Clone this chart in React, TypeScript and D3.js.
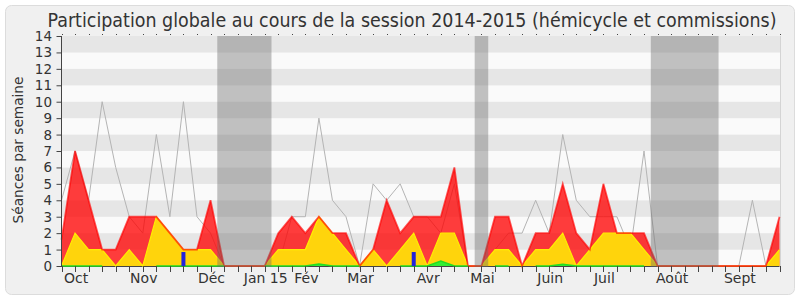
import React from "react";
import * as d3 from "d3";

// ---- data (one value per week, session 2014-2015) ----
const medianLine = [4, 7, 4, 10, 6, 3, 2, 8, 3, 10, 3, 2, 0, 0, 0, 0, 0, 3, 3, 9, 4, 3, 0, 5, 4, 5, 3, 3, 2, 5, 0, 0, 1, 2, 2, 4, 2, 8, 4, 3, 3, 3, 1, 7, 0, 0, 0, 0, 0, 0, 0, 4, 0, 1];
const presenceTotal = [1.6, 7, 4, 1, 1, 3, 3, 3, 2, 1, 1, 4, 0, 0, 0, 0, 2, 3, 2, 3, 2, 2, 0, 1, 4, 2, 3, 3, 3, 6, 0, 0, 3, 3, 0, 2, 2, 5, 2, 1, 5, 2, 2, 2, 0, 0, 0, 0, 0, 0, 0, 0, 0, 3];
const presenceCommission = [0, 2, 1, 1, 0, 1, 0, 3, 2, 1, 1, 1, 0, 0, 0, 0, 1, 1, 1, 3, 2, 1, 0, 1, 0, 1, 2, 0, 2, 2, 0, 0, 1, 1, 0, 1, 1, 2, 0, 1, 2, 2, 2, 1, 0, 0, 0, 0, 0, 0, 0, 0, 0, 1];
const interventions: (number | null)[] = [0, 0, 0, 0, null, null, null, 0, 0, 0, 0, 0, 0, null, null, 0, 0, 0, 0, 0.12, 0, 0, 0, null, null, 0, 0, 0, 0.3, 0, 0, null, 0, 0, null, 0, 0, 0.1, 0, 0, 0, 0, 0, 0, null, null, null, null, null, null, null, null, null, null];
const questions = [0, 0, 0, 0, 0, 0, 0, 0, 0, 0.85, 0, 0, 0, 0, 0, 0, 0, 0, 0, 0, 0, 0, 0, 0, 0, 0, 0.85, 0, 0, 0, 0, 0, 0, 0, 0, 0, 0, 0, 0, 0, 0, 0, 0, 0, 0, 0, 0, 0, 0, 0, 0, 0, 0, 0];
const monthLabels = ["Oct", "Nov", "Déc", "Jan 15", "Fév", "Mar", "Avr", "Mai", "Juin", "Juil", "Août", "Sept"];
const monthWeeks = [1, 6, 11, 15, 18, 22, 27, 31, 36, 40, 45, 50];
const vacationStart = [12, 31, 44];
const vacationEnd = [15, 31, 48];
const yTicks = [0, 1, 2, 3, 4, 5, 6, 7, 8, 9, 10, 11, 12, 13, 14];

const W = 800;
const H = 300;
const left = 61.5;
const right = 779.5;
const top = 36;
const bottom = 266;
const FONT = "'DejaVu Sans', Verdana, sans-serif";

export default function App() {
  const n = presenceTotal.length;
  const weeks = presenceTotal.map((_, i) => i);
  const x = d3.scaleLinear().domain([0, n - 1]).range([left, right]);
  const y = d3.scaleLinear().domain([0, 14]).range([bottom, top]);

  const area = (vals: (number | null)[]) =>
    d3
      .area<number>()
      .defined((i) => vals[i] != null)
      .x((i) => x(i))
      .y0(y(0))
      .y1((i) => y(vals[i] as number))(weeks) || "";
  const line = (vals: (number | null)[]) =>
    d3
      .line<number>()
      .defined((i) => vals[i] != null)
      .x((i) => x(i))
      .y((i) => y(vals[i] as number))(weeks) || "";

  const stripes = yTicks.slice(0, -1);

  return (
    <div style={{ position: "absolute", left: 0, top: 0 }}>
      <svg width={W} height={H} style={{ display: "block" }}>
        <rect x={0} y={0} width={W} height={H} fill="#ffffff" />
        <rect x={5.5} y={5.5} width={789} height={289} rx={6} fill="#f0f0f0" stroke="#dcdcdc" />
        <text
          x={412}
          y={27}
          textAnchor="middle"
          fontFamily="'DejaVu Sans Condensed', 'DejaVu Sans', sans-serif"
          fontSize={19}
          fill="#333"
          textLength={729}
          lengthAdjust="spacingAndGlyphs"
        >
          Participation globale au cours de la session 2014-2015 (hémicycle et commissions)
        </text>

        {/* background stripes */}
        {stripes.map((v) => (
          <rect
            key={"s" + v}
            x={left}
            width={right + 0.5 - left}
            y={y(v + 1)}
            height={y(v) - y(v + 1)}
            fill={v % 2 === 1 ? "#e6e6e6" : "#fafafa"}
          />
        ))}
        <line x1={right + 1} x2={right + 1} y1={top} y2={bottom} stroke="#d4d4d4" />

        {/* bottom axis line */}
        <line x1={left} x2={right} y1={bottom + 0.5} y2={bottom + 0.5} stroke="#444" />

        {/* median line */}
        <path d={line(medianLine)} fill="none" stroke="#b4b4b4" strokeWidth={1} />

        {/* presence total (red) */}
        <path d={area(presenceTotal)} fill="rgba(255,0,0,0.76)" stroke="none" />
        {/* commission (yellow) */}
        <path d={area(presenceCommission)} fill="#ffd40c" stroke="none" />
        <path d={line(presenceCommission)} fill="none" stroke="#ffee00" strokeWidth={1.2} />
        <path d={line(presenceTotal)} fill="none" stroke="rgba(255,0,0,0.65)" strokeWidth={1.8} />

        {/* interventions (green) */}
        <path d={area(interventions)} fill="#33ee33" stroke="none" />
        <path d={line(interventions)} fill="none" stroke="#22dd22" strokeWidth={1.5} />

        {/* questions (blue) */}
        {questions.map((v, i) =>
          v > 0 ? (
            <rect key={"q" + i} x={x(i) - 2} width={4} y={y(v)} height={y(0) - y(v)} fill="#2222dd" />
          ) : null
        )}

        {/* vacation overlays */}
        {vacationStart.map((s, k) => (
          <rect
            key={"v" + k}
            x={x(s - 0.5)}
            width={x(vacationEnd[k] + 0.5) - x(s - 0.5)}
            y={top}
            height={bottom + 1 - top}
            fill="rgba(105,105,105,0.4)"
          />
        ))}

        {/* y axis */}
        <line x1={left} x2={left} y1={top} y2={bottom + 1} stroke="#444" />
        {yTicks.map((v) => (
          <g key={"y" + v}>
            <line x1={left - 5} x2={left} y1={y(v) + 0.5} y2={y(v) + 0.5} stroke="#444" />
            <text
              x={52}
              y={y(v) + 5}
              textAnchor="end"
              fontFamily={FONT}
              fontSize={13.5}
              fill="#333"
            >
              {v}
            </text>
          </g>
        ))}
        <text
          transform={`translate(23,150) rotate(-90)`}
          textAnchor="middle"
          fontFamily={FONT}
          fontSize={13.7}
          fill="#333"
        >
          Séances par semaine
        </text>

        {/* x ticks */}
        {weeks.map((i) => (
          <g key={"x" + i}>
            <line x1={Math.round(x(i)) + 0.5} x2={Math.round(x(i)) + 0.5} y1={bottom} y2={bottom + 6} stroke="#444" />
            <line x1={Math.round(x(i)) + 0.5} x2={Math.round(x(i)) + 0.5} y1={top - 2} y2={top - 1} stroke="#444" />
          </g>
        ))}
        {monthLabels.map((m, k) => (
          <text
            key={"m" + k}
            x={x(monthWeeks[k]) + 1}
            y={283}
            textAnchor="middle"
            fontFamily={FONT}
            fontSize={14}
            fill="#333"
          >
            {m}
          </text>
        ))}
      </svg>
    </div>
  );
}
